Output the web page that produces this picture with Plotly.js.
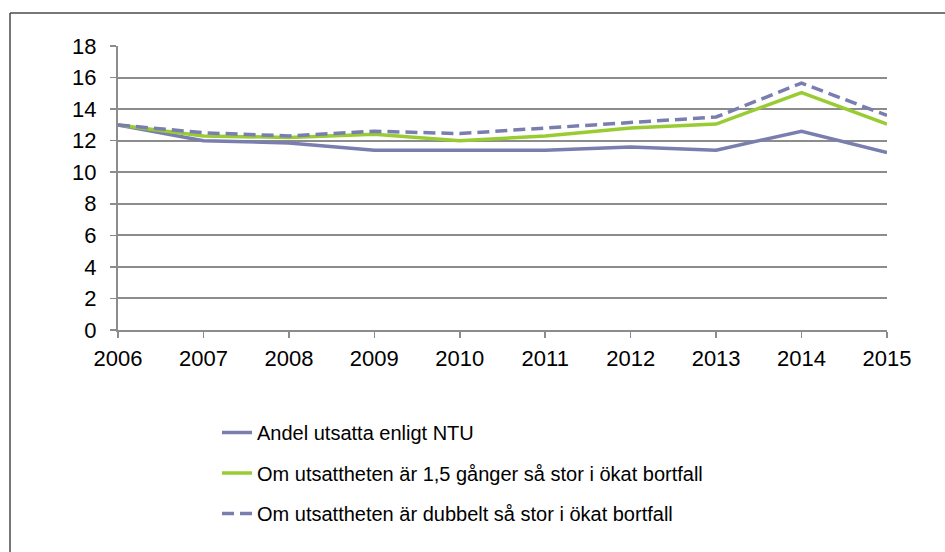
<!DOCTYPE html>
<html>
<head>
<meta charset="utf-8">
<script src="https://cdn.plot.ly/plotly-3.0.1.min.js"></script>
<style>html,body{margin:0;padding:0;background:#fff;}#chart{width:945px;height:552px;}</style>
</head>
<body>
<div id="chart"></div>
<script>
const years = [2006, 2007, 2008, 2009, 2010, 2011, 2012, 2013, 2014, 2015];
const andelNTU = [13.0, 12.0, 11.85, 11.4, 11.4, 11.4, 11.6, 11.4, 12.6, 11.25];
const om15 = [13.0, 12.3, 12.2, 12.4, 12.0, 12.3, 12.8, 13.05, 15.05, 13.05];
const omDubbelt = [13.0, 12.5, 12.3, 12.6, 12.45, 12.8, 13.2, 13.5, 15.65, 13.6];
const seriesNames = [
  "Andel utsatta enligt NTU",
  "Om utsattheten är 1,5 gånger så stor i ökat bortfall",
  "Om utsattheten är dubbelt så stor i ökat bortfall"
];
const yTicks = [0, 2, 4, 6, 8, 10, 12, 14, 16, 18];

const W = 945, H = 552, L = 118, R = 58, T = 46, B = 222;
const pw = W - L - R, ph = H - T - B;
const px = x => (x - L) / pw;
const py = y => (H - B - y) / ph;

const traces = [
  {x: years, y: andelNTU, name: seriesNames[0], mode: 'lines', legendgroup: 'a',
   line: {color: '#7a7eaf', width: 3.5}},
  {x: years, y: om15, name: seriesNames[1], mode: 'lines', legendgroup: 'b',
   line: {color: '#99cc33', width: 3.5}},
  {x: years, y: omDubbelt, name: seriesNames[2], mode: 'lines', legendgroup: 'c',
   line: {color: '#7a7eaf', width: 3.5, dash: '12px,6px'}}
];

const layout = {
  width: W, height: H,
  margin: {l: L, r: R, t: T, b: B},
  paper_bgcolor: '#ffffff', plot_bgcolor: '#ffffff',
  font: {family: 'Liberation Sans, Arial, sans-serif', color: '#000'},
  showlegend: true,
  legend: {
    x: px(217), y: py(413), xanchor: 'left', yanchor: 'top',
    font: {size: 20, color: '#000'}, traceorder: 'grouped', tracegroupgap: 11.5,
    bgcolor: 'rgba(0,0,0,0)'
  },
  xaxis: {
    range: [2006, 2015], tickmode: 'array', tickvals: years, ticktext: years.map(String),
    showgrid: false, zeroline: false, showline: true, linecolor: '#8c8c8c', linewidth: 2,
    ticks: 'outside', ticklen: 6, tickcolor: '#8c8c8c', tickwidth: 1.5,
    ticklabelstandoff: 2,
    tickfont: {size: 22, color: '#000'}
  },
  yaxis: {
    range: [0, 18], tickmode: 'array', tickvals: yTicks, ticktext: yTicks.map(String),
    showgrid: true, gridcolor: '#8c8c8c', gridwidth: 2, zeroline: false,
    showline: true, linecolor: '#8c8c8c', linewidth: 2,
    ticks: 'outside', ticklen: 6, tickcolor: '#8c8c8c', tickwidth: 1.5,
    ticklabelstandoff: 9,
    tickfont: {size: 22, color: '#000'}
  },
  shapes: [
    {type: 'line', xref: 'paper', yref: 'paper', x0: px(10), x1: px(950), y0: py(13), y1: py(13),
     line: {color: '#4a4a4a', width: 1.5}},
    {type: 'line', xref: 'paper', yref: 'paper', x0: px(10), x1: px(10), y0: py(13), y1: py(560),
     line: {color: '#4a4a4a', width: 1.5}}
  ]
};

Plotly.newPlot('chart', traces, layout, {displayModeBar: false, staticPlot: true});
</script>
</body>
</html>
